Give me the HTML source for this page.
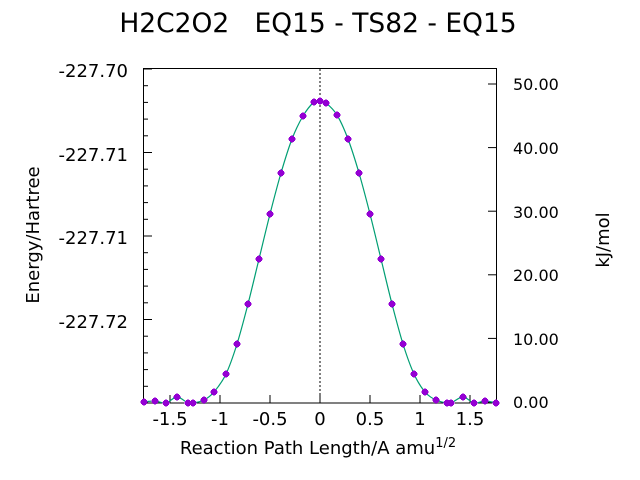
<!DOCTYPE html>
<html><head><meta charset="utf-8"><style>
body{margin:0;background:#fff;}
svg{display:block;font-family:"DejaVu Sans","Liberation Sans",sans-serif;}
</style></head><body>
<svg id="s" width="640" height="480" xmlns="http://www.w3.org/2000/svg">
<rect width="640" height="480" fill="#fff"/>
<text x="318" y="32" font-size="26.5" text-anchor="middle" xml:space="preserve">H2C2O2   EQ15 - TS82 - EQ15</text>
<g font-size="18" text-anchor="end">
<text x="128" y="77">-227.70</text>
<text x="128" y="161">-227.71</text>
<text x="128" y="244">-227.71</text>
<text x="128" y="328">-227.72</text>
</g>
<g font-size="16">
<text x="513" y="90">50.00</text>
<text x="513" y="154">40.00</text>
<text x="513" y="218">30.00</text>
<text x="513" y="281">20.00</text>
<text x="513" y="345">10.00</text>
<text x="513" y="408">0.00</text>
</g>
<g font-size="18" text-anchor="middle">
<text x="170" y="425">-1.5</text>
<text x="220" y="425">-1</text>
<text x="270" y="425">-0.5</text>
<text x="320" y="425">0</text>
<text x="370" y="425">0.5</text>
<text x="420" y="425">1</text>
<text x="470" y="425">1.5</text>
</g>
<text x="318" y="454" font-size="18" text-anchor="middle">Reaction Path Length/A amu<tspan font-size="13" dy="-7">1/2</tspan></text>
<text transform="translate(39,235) rotate(-90)" font-size="18" text-anchor="middle">Energy/Hartree</text>
<text transform="translate(609,240) rotate(-90)" font-size="18" text-anchor="middle">kJ/mol</text>
<line x1="320" y1="69" x2="320" y2="403" stroke="#000" stroke-dasharray="2,2"/>
<g id="ticks" stroke="#000" stroke-width="1"></g>
<rect x="143.5" y="68.5" width="353" height="334.5" fill="none" stroke="#000"/>
<path id="curve" fill="none" stroke="#009e73" stroke-width="1.2"/>
<g id="pts" fill="#9400d3"></g>
</svg>
<script>
var ns="http://www.w3.org/2000/svg";
var T=document.getElementById("ticks");
function ln(x1,y1,x2,y2){var l=document.createElementNS(ns,"line");l.setAttribute("x1",x1);l.setAttribute("y1",y1);l.setAttribute("x2",x2);l.setAttribute("y2",y2);T.appendChild(l);}
for(var i=0;i<=20;i++){var y=69+i*16.7;ln(144,y,i%5==0?152:148,y);}
for(var k=0;k<=5;k++){var y=402-k*63.6;ln(496,y,488,y);}
for(var v=-3;v<=3;v++){var x=320+v*50;ln(x,403,x,395);}
var P=[[144,402],[155,401],[166,403],[177,397],[188,403],[193,403],[204,400],[214,392],[226,374],[237,344],[248,304],[259,259],[270,214],[281,173],[292,139],[303,116],[314,102],[320,101],[326,103],[337,115],[348,139],[359,173],[370,214],[381,259],[392,304],[403,344],[414,374],[425,392],[436,400],[447,403],[451,403],[463,397],[474,403],[485,401],[496,403]];
var d="M"+P[0][0]+","+P[0][1];
for(var i=0;i<P.length-1;i++){var p0=P[Math.max(i-1,0)],p1=P[i],p2=P[i+1],p3=P[Math.min(i+2,P.length-1)];
d+=" C"+(p1[0]+(p2[0]-p0[0])/6)+","+(p1[1]+(p2[1]-p0[1])/6)+" "+(p2[0]-(p3[0]-p1[0])/6)+","+(p2[1]-(p3[1]-p1[1])/6)+" "+p2[0]+","+p2[1];}
document.getElementById("curve").setAttribute("d",d);
var G=document.getElementById("pts");
P.forEach(function(p){
 [[p[0]-3,p[1]-2,6,4],[p[0]-2,p[1]-3,4,6],[p[0]-4,p[1]-0.5,8,1],[p[0]-0.5,p[1]-4,1,8]].forEach(function(r){
  var e=document.createElementNS(ns,"rect");e.setAttribute("x",r[0]);e.setAttribute("y",r[1]);e.setAttribute("width",r[2]);e.setAttribute("height",r[3]);G.appendChild(e);});
});
</script>
</body></html>
